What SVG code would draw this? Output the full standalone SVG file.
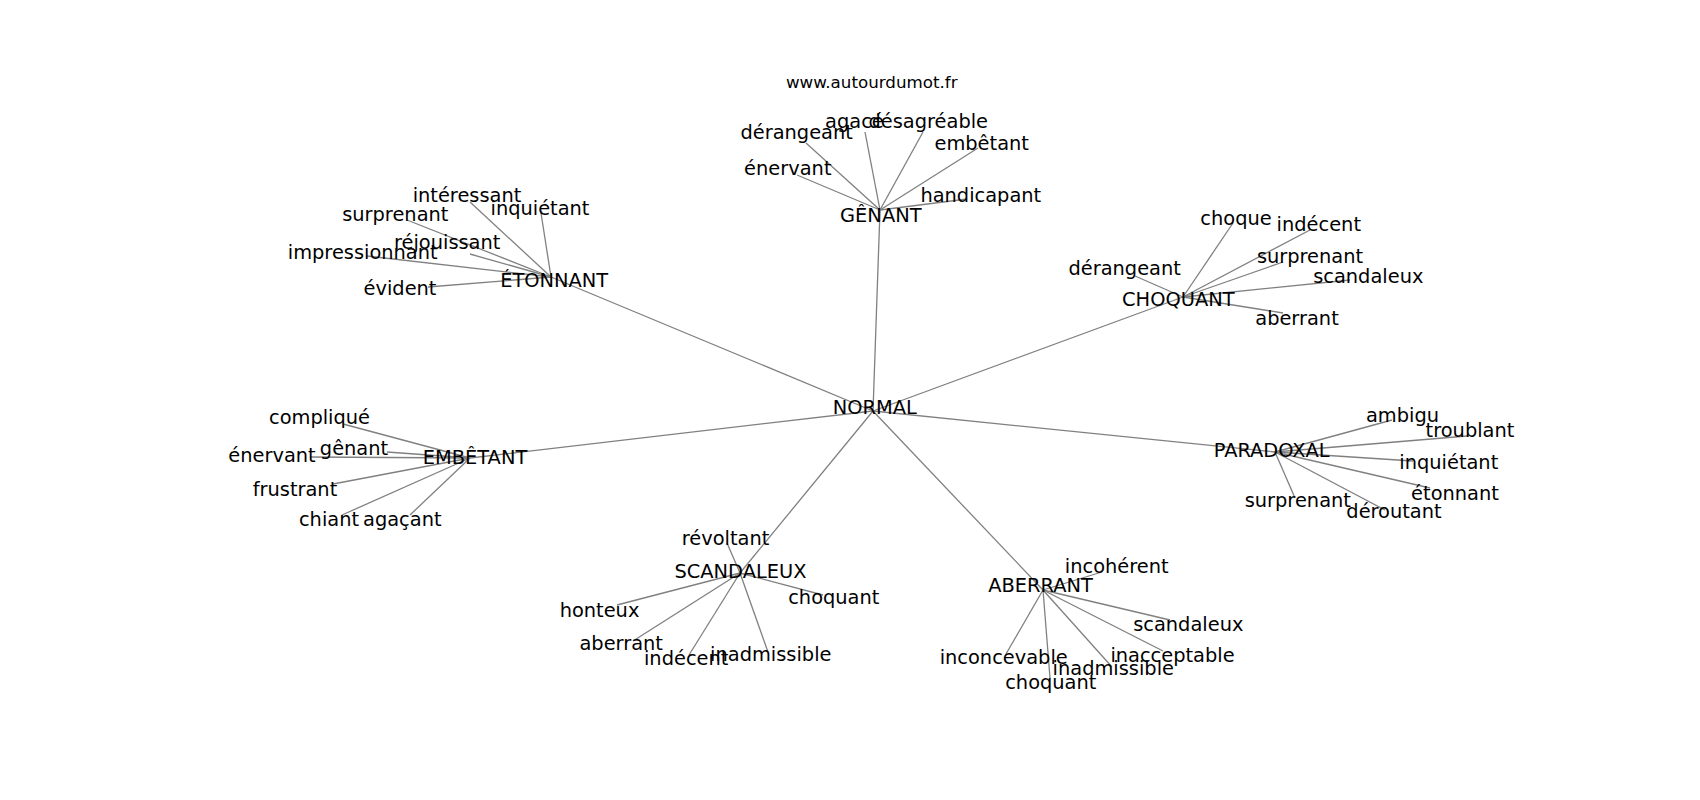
<svg xmlns="http://www.w3.org/2000/svg" width="1700" height="800" viewBox="0 0 1700 800">
<style>
text{font-family:"DejaVu Sans","Liberation Sans",sans-serif;font-size:19.4px;fill:#000;text-anchor:middle}
.t{font-size:16.7px}
#edges line{stroke:#808080;stroke-width:1.3}
</style>
<rect width="1700" height="800" fill="#fff"/>
<g id="edges">
<line x1="873" y1="411" x2="880" y2="210"/>
<line x1="873" y1="411" x2="551" y2="277"/>
<line x1="873" y1="411" x2="1183" y2="297"/>
<line x1="873" y1="411" x2="470" y2="458"/>
<line x1="873" y1="411" x2="1275" y2="452"/>
<line x1="873" y1="411" x2="740" y2="573"/>
<line x1="873" y1="411" x2="1043" y2="590"/>
<line x1="880" y1="210" x2="806" y2="143"/>
<line x1="880" y1="210" x2="865" y2="132"/>
<line x1="880" y1="210" x2="923" y2="132"/>
<line x1="880" y1="210" x2="978" y2="148"/>
<line x1="880" y1="210" x2="797" y2="175"/>
<line x1="880" y1="210" x2="967" y2="199"/>
<line x1="551" y1="277" x2="470" y2="202"/>
<line x1="551" y1="277" x2="541" y2="213"/>
<line x1="551" y1="277" x2="407" y2="220"/>
<line x1="551" y1="277" x2="470" y2="254"/>
<line x1="551" y1="277" x2="367" y2="256"/>
<line x1="551" y1="277" x2="428" y2="287"/>
<line x1="1183" y1="297" x2="1233" y2="223"/>
<line x1="1183" y1="297" x2="1310" y2="230"/>
<line x1="1183" y1="297" x2="1283" y2="262"/>
<line x1="1183" y1="297" x2="1350" y2="280"/>
<line x1="1183" y1="297" x2="1135" y2="276"/>
<line x1="1183" y1="297" x2="1283" y2="313"/>
<line x1="470" y1="458" x2="343" y2="424"/>
<line x1="470" y1="458" x2="387" y2="452"/>
<line x1="470" y1="458" x2="310" y2="457"/>
<line x1="470" y1="458" x2="333" y2="484"/>
<line x1="470" y1="458" x2="342" y2="515"/>
<line x1="470" y1="458" x2="410" y2="515"/>
<line x1="1275" y1="452" x2="1392" y2="420"/>
<line x1="1275" y1="452" x2="1467" y2="436"/>
<line x1="1275" y1="452" x2="1413" y2="461"/>
<line x1="1275" y1="452" x2="1430" y2="488"/>
<line x1="1275" y1="452" x2="1295" y2="498"/>
<line x1="1275" y1="452" x2="1385" y2="510"/>
<line x1="740" y1="573" x2="727" y2="543"/>
<line x1="740" y1="573" x2="823" y2="595"/>
<line x1="740" y1="573" x2="617" y2="605"/>
<line x1="740" y1="573" x2="633" y2="641"/>
<line x1="740" y1="573" x2="689" y2="655"/>
<line x1="740" y1="573" x2="768" y2="652"/>
<line x1="1043" y1="590" x2="1102" y2="572"/>
<line x1="1043" y1="590" x2="1170" y2="620"/>
<line x1="1043" y1="590" x2="1163" y2="651"/>
<line x1="1043" y1="590" x2="1006" y2="654"/>
<line x1="1043" y1="590" x2="1112" y2="667"/>
<line x1="1043" y1="590" x2="1050" y2="678"/>
</g>
<text class="t" x="871.7" y="88">www.autourdumot.fr</text>
<g id="normal"><text x="874.7" y="414">NORMAL</text></g>
<g id="genant"><text x="880.8" y="222.3">GÊNANT</text></g>
<g id="genant-derangeant"><text x="796.7" y="139.3">dérangeant</text></g>
<g id="genant-agace"><text x="854.4" y="128.3">agacé</text></g>
<g id="genant-desagreable"><text x="928.3" y="128.3">désagréable</text></g>
<g id="genant-embetant"><text x="981.7" y="150">embêtant</text></g>
<g id="genant-enervant"><text x="787.8" y="175">énervant</text></g>
<g id="genant-handicapant"><text x="980.8" y="201.7">handicapant</text></g>
<g id="etonnant"><text x="554.2" y="286.7">ÉTONNANT</text></g>
<g id="etonnant-interessant"><text x="467" y="201.7">intéressant</text></g>
<g id="etonnant-inquietant"><text x="540" y="215">inquiétant</text></g>
<g id="etonnant-surprenant"><text x="395.3" y="220.7">surprenant</text></g>
<g id="etonnant-rejouissant"><text x="447.2" y="249">réjouissant</text></g>
<g id="etonnant-impressionnant"><text x="362.7" y="259.3">impressionnant</text></g>
<g id="etonnant-evident"><text x="400" y="295">évident</text></g>
<g id="choquant"><text x="1178.3" y="306">CHOQUANT</text></g>
<g id="choquant-choque"><text x="1236" y="225">choque</text></g>
<g id="choquant-indecent"><text x="1318.8" y="230.7">indécent</text></g>
<g id="choquant-surprenant"><text x="1310" y="262.7">surprenant</text></g>
<g id="choquant-scandaleux"><text x="1368.3" y="282.7">scandaleux</text></g>
<g id="choquant-derangeant"><text x="1124.7" y="275">dérangeant</text></g>
<g id="choquant-aberrant"><text x="1297" y="325">aberrant</text></g>
<g id="embetant"><text x="475" y="464">EMBÊTANT</text></g>
<g id="embetant-complique"><text x="319.5" y="424.3">compliqué</text></g>
<g id="embetant-genant"><text x="354" y="455">gênant</text></g>
<g id="embetant-enervant"><text x="272" y="461.7">énervant</text></g>
<g id="embetant-frustrant"><text x="295" y="496">frustrant</text></g>
<g id="embetant-chiant"><text x="329" y="525.7">chiant</text></g>
<g id="embetant-agacant"><text x="402.3" y="525.7">agaçant</text></g>
<g id="paradoxal"><text x="1271.7" y="457.3">PARADOXAL</text></g>
<g id="paradoxal-ambigu"><text x="1402.5" y="421.7">ambigu</text></g>
<g id="paradoxal-troublant"><text x="1470" y="437.3">troublant</text></g>
<g id="paradoxal-inquietant"><text x="1448.8" y="469">inquiétant</text></g>
<g id="paradoxal-etonnant"><text x="1455" y="500">étonnant</text></g>
<g id="paradoxal-surprenant"><text x="1297.8" y="506.7">surprenant</text></g>
<g id="paradoxal-deroutant"><text x="1394" y="518.3">déroutant</text></g>
<g id="scandaleux"><text x="740.5" y="577.7">SCANDALEUX</text></g>
<g id="scandaleux-revoltant"><text x="725.5" y="545">révoltant</text></g>
<g id="scandaleux-choquant"><text x="833.8" y="604.3">choquant</text></g>
<g id="scandaleux-honteux"><text x="599.5" y="616.7">honteux</text></g>
<g id="scandaleux-aberrant"><text x="621.2" y="650">aberrant</text></g>
<g id="scandaleux-indecent"><text x="686.2" y="665">indécent</text></g>
<g id="scandaleux-inadmissible"><text x="770.8" y="660.7">inadmissible</text></g>
<g id="aberrant"><text x="1040.5" y="591.7">ABERRANT</text></g>
<g id="aberrant-incoherent"><text x="1116.7" y="573.3">incohérent</text></g>
<g id="aberrant-scandaleux"><text x="1188.3" y="631">scandaleux</text></g>
<g id="aberrant-inacceptable"><text x="1172.5" y="662.3">inacceptable</text></g>
<g id="aberrant-inconcevable"><text x="1003.7" y="664">inconcevable</text></g>
<g id="aberrant-inadmissible"><text x="1113.3" y="675">inadmissible</text></g>
<g id="aberrant-choquant"><text x="1050.8" y="689">choquant</text></g>
</svg>
